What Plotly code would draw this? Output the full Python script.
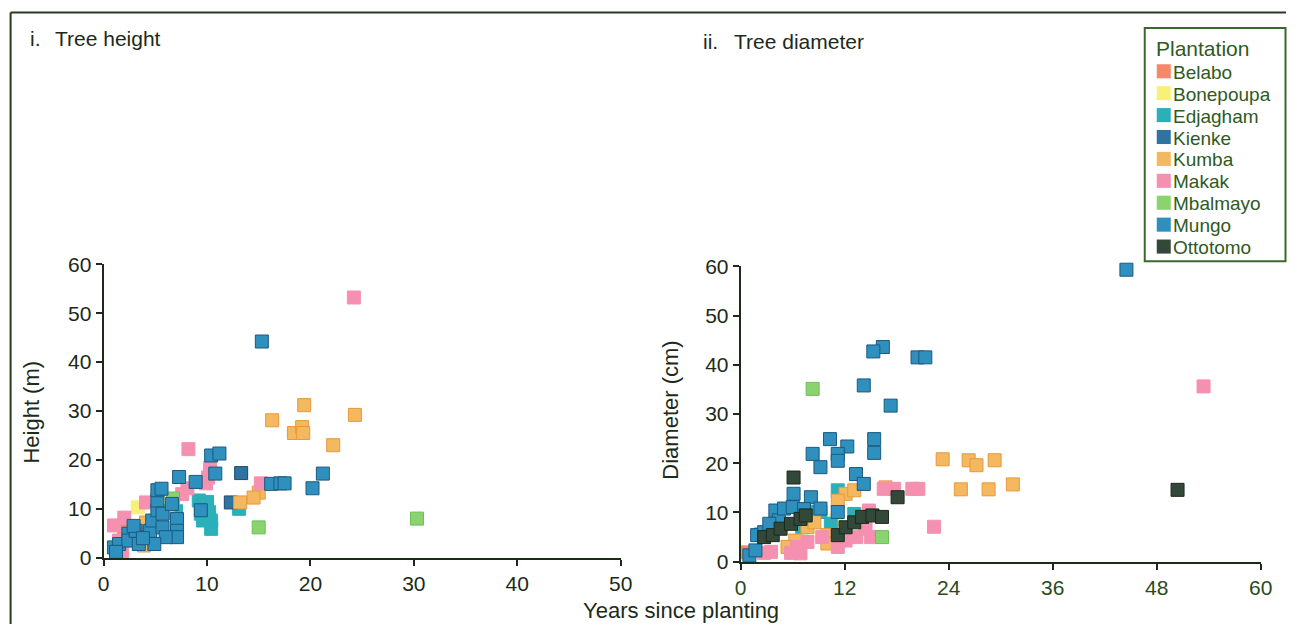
import plotly.graph_objects as go

# ---------------- data ----------------
plantations = ["Belabo", "Bonepoupa", "Edjagham", "Kienke", "Kumba",
               "Makak", "Mbalmayo", "Mungo", "Ottotomo"]

# Tree height panel: years since planting / height (m)
belabo_h_years = [2.0]
belabo_h_height = [5.5]
bonepoupa_h_years = [3.3, 6.2]
bonepoupa_h_height = [10.3, 11.0]
edjagham_h_years = [9.2, 10.0, 10.2, 9.4, 10.4, 10.4, 9.6, 13.1, 7.0]
edjagham_h_height = [11.7, 11.4, 9.3, 9.0, 7.6, 5.9, 7.6, 10.0, 9.5]
kienke_h_years = [13.3, 12.3]
kienke_h_height = [17.3, 11.3]
kumba_h_years = [19.4, 16.3, 24.3, 18.4, 19.2, 19.3, 22.2, 15.0, 14.5, 13.2, 6.2, 4.1, 3.9]
kumba_h_height = [31.2, 28.1, 29.2, 25.5, 26.7, 25.5, 23.0, 13.3, 12.3, 11.3, 9.2, 7.2, 2.5]
makak_h_years = [1.0, 2.0, 4.1, 7.6, 8.2, 8.1, 9.9, 10.1, 10.3, 15.2, 24.2, 1.5, 1.8]
makak_h_height = [6.6, 8.2, 11.3, 13.0, 22.2, 14.2, 15.2, 16.4, 18.3, 15.2, 53.2, 3.5, 1.0]
mbalmayo_h_years = [15.0, 30.3, 6.7]
mbalmayo_h_height = [6.2, 8.0, 12.1]
mungo_h_years = [1.0, 1.5, 2.4, 2.4, 3.1, 3.4, 4.1, 4.5, 4.7, 5.2, 5.2, 5.7, 5.7, 5.2,
                 5.6, 6.6, 7.1, 7.1, 7.3, 7.1, 6.0, 4.9, 8.9, 10.4, 11.2, 10.8,
                 16.2, 17.1, 17.5, 21.2, 20.2, 15.3, 9.4, 2.9, 3.8, 1.2]
mungo_h_height = [2.1, 2.8, 4.9, 3.5, 5.5, 2.8, 4.2, 5.5, 7.6, 9.7, 11.7, 9.0, 6.2, 13.8,
                  14.1, 11.0, 7.9, 5.5, 16.5, 4.2, 4.2, 2.8, 15.5, 20.9, 21.3, 17.2,
                  15.1, 15.2, 15.2, 17.2, 14.2, 44.2, 9.7, 6.5, 4.0, 1.2]
ottotomo_h_years = []
ottotomo_h_height = []

# Tree diameter panel: years since planting / diameter (cm)
belabo_d_years = [0.8]
belabo_d_diam = [1.9]
bonepoupa_d_years = [11.0]
bonepoupa_d_diam = [8.4]
edjagham_d_years = [11.2, 9.2, 8.5, 7.1, 13.1, 10.4]
edjagham_d_diam = [14.5, 10.1, 10.1, 7.0, 9.7, 7.7]
kienke_d_years = [2.3]
kienke_d_diam = [5.5]
kumba_d_years = [23.3, 25.4, 26.3, 27.2, 29.3, 28.6, 31.4, 16.7, 12.1, 13.1, 11.2,
                 7.7, 8.5, 6.3, 5.4, 10.0, 10.0]
kumba_d_diam = [20.8, 14.7, 20.6, 19.6, 20.6, 14.7, 15.7, 15.1, 13.8, 14.5, 12.4,
                7.0, 8.0, 4.3, 3.0, 5.4, 3.7]
makak_d_years = [53.4, 22.3, 16.5, 17.7, 19.8, 20.5, 3.5, 6.5, 6.9, 7.7, 9.4, 11.2,
                 12.1, 13.3, 14.4, 15.0, 14.8, 2.7, 5.8]
makak_d_diam = [35.6, 7.1, 14.8, 14.8, 14.8, 14.8, 2.0, 3.0, 1.7, 4.0, 5.0, 3.0,
                4.3, 5.0, 6.7, 5.0, 10.4, 1.8, 1.8]
mbalmayo_d_years = [8.3, 16.3]
mbalmayo_d_diam = [35.1, 5.0]
mungo_d_years = [44.5, 16.4, 15.3, 20.4, 21.3, 14.2, 17.3, 10.3, 12.3, 15.4, 15.4, 8.3,
                 11.2, 11.2, 9.2, 13.3, 14.2, 6.1, 8.1, 11.2, 1.0, 1.7, 1.9, 2.7, 4.0,
                 4.4, 5.0, 6.0, 9.2, 3.3, 7.3]
mungo_d_diam = [59.3, 43.6, 42.7, 41.5, 41.5, 35.8, 31.7, 24.9, 23.4, 24.9, 22.1, 21.9,
                21.9, 20.5, 19.2, 17.8, 15.8, 13.8, 13.1, 10.1, 1.3, 2.3, 5.4, 6.0, 10.4,
                8.4, 10.8, 11.1, 10.8, 7.7, 10.7]
ottotomo_d_years = [50.4, 6.1, 18.1, 2.7, 3.7, 4.6, 5.8, 6.9, 7.5, 11.2, 12.1, 13.1,
                    14.0, 15.2, 16.3]
ottotomo_d_diam = [14.6, 17.1, 13.1, 5.0, 5.4, 6.7, 7.7, 8.7, 9.4, 5.4, 7.0, 8.0,
                   9.1, 9.4, 9.1]

height_x = [belabo_h_years, bonepoupa_h_years, edjagham_h_years, kienke_h_years,
            kumba_h_years, makak_h_years, mbalmayo_h_years, mungo_h_years, ottotomo_h_years]
height_y = [belabo_h_height, bonepoupa_h_height, edjagham_h_height, kienke_h_height,
            kumba_h_height, makak_h_height, mbalmayo_h_height, mungo_h_height, ottotomo_h_height]
diam_x = [belabo_d_years, bonepoupa_d_years, edjagham_d_years, kienke_d_years,
          kumba_d_years, makak_d_years, mbalmayo_d_years, mungo_d_years, ottotomo_d_years]
diam_y = [belabo_d_diam, bonepoupa_d_diam, edjagham_d_diam, kienke_d_diam,
          kumba_d_diam, makak_d_diam, mbalmayo_d_diam, mungo_d_diam, ottotomo_d_diam]

height_ticks = [0, 10, 20, 30, 40, 50]
height_yticks = [0, 10, 20, 30, 40, 50, 60]
diam_ticks = [0, 12, 24, 36, 48, 60]
diam_yticks = [0, 10, 20, 30, 40, 50, 60]

# ---------------- styles ----------------
fill_colors = ["#f4886a", "#f7f07a", "#2bb0ba", "#2f74a0", "#f3b860",
               "#f590b0", "#8ad36f", "#2f8fbd", "#34483a"]
edge_colors = ["#f4886a", "#f7f07a", "#2bb0ba", "#1d4a6a", "#e8983a",
               "#f590b0", "#6cbf58", "#1b5a80", "#1a2a1c"]

FONT = "Liberation Sans, Arial, Helvetica, sans-serif"
DARK = "#1c2a18"
GREEN = "#2f5a22"
W, H = 1298, 635

# the page is photographed slightly shrunk; map target screen pixels to paper coords
SX, AX = 0.986, 5.4
SY, AY = 0.959, 14.0


def px_x(v):
    p = (v - AX) / SX
    return min(max(p, 0.5), W - 0.5) / W


def px_y(v):
    p = (v - AY) / SY
    return (H - min(max(p, 0.5), H - 0.5)) / H


fig = go.Figure()
for i, name in enumerate(plantations):
    marker = dict(symbol="square", size=13, color=fill_colors[i],
                  line=dict(width=1, color=edge_colors[i]))
    fig.add_trace(go.Scatter(x=height_x[i], y=height_y[i], mode="markers", name=name,
                             showlegend=False, marker=marker,
                             cliponaxis=False, xaxis="x", yaxis="y"))
    fig.add_trace(go.Scatter(x=diam_x[i], y=diam_y[i], mode="markers", name=name,
                             showlegend=False, marker=marker,
                             cliponaxis=False, xaxis="x2", yaxis="y2"))

axis_common = dict(showline=True, linecolor=DARK, linewidth=2, ticks="outside",
                   ticklen=6, tickwidth=2, tickcolor=DARK, showgrid=False,
                   zeroline=False)
tick_dark = dict(family=FONT, size=21, color=DARK)
tick_green = dict(family=FONT, size=21, color="#2a4a1c")

shapes = [
    dict(type="line", xref="paper", yref="paper", x0=px_x(10), x1=1.0,
         y0=px_y(13), y1=px_y(13), line=dict(color="#2a3a20", width=2)),
    dict(type="line", xref="paper", yref="paper", x0=px_x(10), x1=px_x(10),
         y0=px_y(13), y1=0.0, line=dict(color="#2a3a20", width=2)),
    dict(type="rect", xref="paper", yref="paper", x0=px_x(1144), x1=px_x(1289),
         y0=px_y(262), y1=px_y(30), line=dict(color="#3a6a2a", width=2),
         fillcolor="white", layer="above"),
]
annotations = [
    dict(text="Plantation", x=px_x(1153), y=px_y(50), xref="paper", yref="paper",
         xanchor="left", yanchor="middle", showarrow=False,
         font=dict(family=FONT, size=21, color=GREEN)),
]
for i, name in enumerate(plantations):
    yc = 73 + 21.8 * i
    shapes.append(dict(type="rect", xref="paper", yref="paper",
                       x0=px_x(1156), x1=px_x(1170), y0=px_y(yc + 7), y1=px_y(yc - 7),
                       fillcolor=fill_colors[i], line=dict(width=0), layer="above"))
    annotations.append(dict(text=name, x=px_x(1170), y=px_y(yc + 1), xref="paper",
                            yref="paper", xanchor="left", yanchor="middle",
                            showarrow=False,
                            font=dict(family=FONT, size=19, color=GREEN)))

annotations += [
    dict(text="i.", x=px_x(27), y=px_y(40), xref="paper", yref="paper",
         xanchor="left", yanchor="middle", showarrow=False,
         font=dict(family=FONT, size=21, color=DARK)),
    dict(text="Tree height", x=px_x(52), y=px_y(40), xref="paper", yref="paper",
         xanchor="left", yanchor="middle", showarrow=False,
         font=dict(family=FONT, size=21, color=DARK)),
    dict(text="ii.", x=px_x(700), y=px_y(43), xref="paper", yref="paper",
         xanchor="left", yanchor="middle", showarrow=False,
         font=dict(family=FONT, size=21, color=DARK)),
    dict(text="Tree diameter", x=px_x(731), y=px_y(43), xref="paper", yref="paper",
         xanchor="left", yanchor="middle", showarrow=False,
         font=dict(family=FONT, size=21, color=DARK)),
    dict(text="Height (m)", x=px_x(31), y=px_y(412), xref="paper", yref="paper",
         xanchor="center", yanchor="middle", showarrow=False, textangle=-90,
         font=dict(family=FONT, size=22, color=DARK)),
    dict(text="Diameter (cm)", x=px_x(670), y=px_y(410), xref="paper", yref="paper",
         xanchor="center", yanchor="middle", showarrow=False, textangle=-90,
         font=dict(family=FONT, size=22, color=DARK)),
    dict(text="Years since planting", x=px_x(680), y=px_y(610), xref="paper",
         yref="paper", xanchor="center", yanchor="middle", showarrow=False,
         font=dict(family=FONT, size=22, color=DARK)),
]

fig.update_layout(
    width=W, height=H,
    margin=dict(l=0, r=0, t=0, b=0),
    paper_bgcolor="white", plot_bgcolor="white",
    font=dict(family=FONT, color=DARK),
    showlegend=False,
    xaxis=dict(domain=[px_x(103), px_x(620)], range=[0, 50], tickvals=height_ticks,
               anchor="y", tickfont=tick_dark, **axis_common),
    yaxis=dict(domain=[px_y(557), px_y(265)], range=[0, 60],
               tickvals=height_yticks, anchor="x", tickfont=tick_dark, **axis_common),
    xaxis2=dict(domain=[px_x(740), px_x(1260)], range=[0, 60], tickvals=diam_ticks,
                anchor="y2", tickfont=tick_green, **axis_common),
    yaxis2=dict(domain=[px_y(561), px_y(267)], range=[0, 60],
                tickvals=diam_yticks, anchor="x2", tickfont=tick_dark, **axis_common),
    shapes=shapes,
    annotations=annotations,
)

fig.write_html("out.html",
               config={"responsive": False, "displayModeBar": False},
               post_script="document.body.style.margin='0';"
                           "document.body.style.overflow='hidden';")
